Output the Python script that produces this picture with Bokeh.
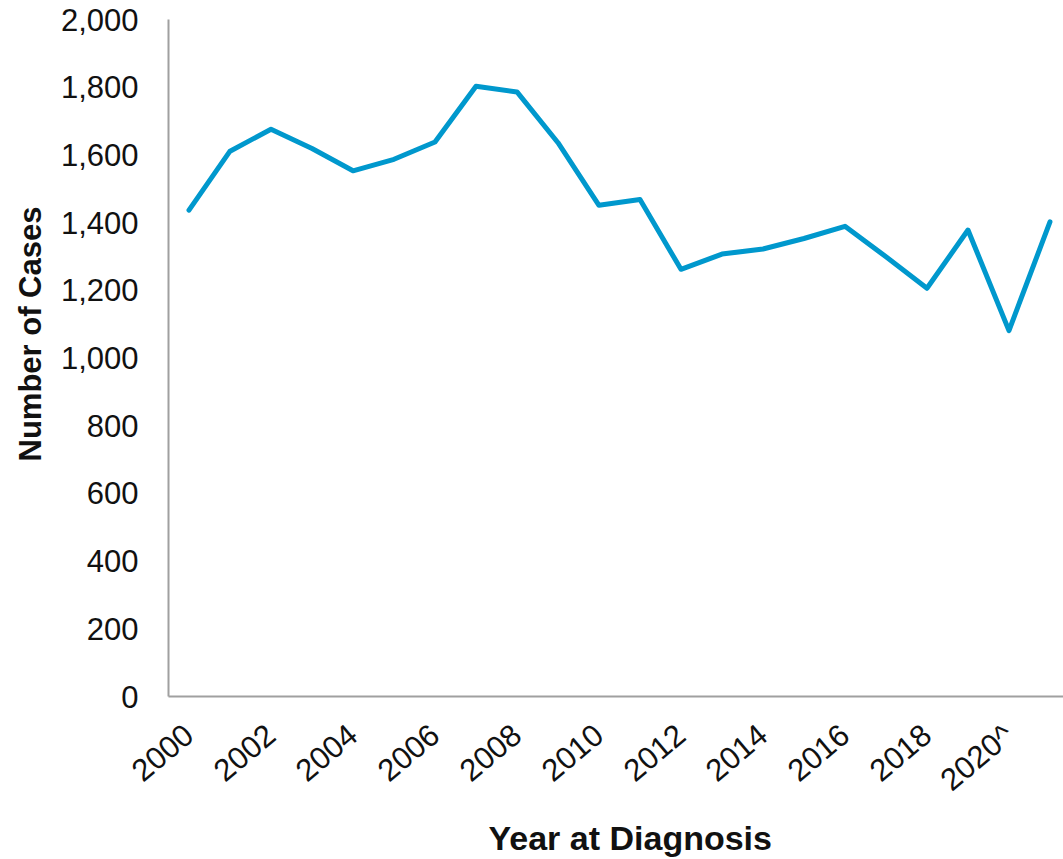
from bokeh.plotting import figure
from bokeh.models import Range1d, FixedTicker, NumeralTickFormatter, Title
from bokeh.embed import file_html
from bokeh.resources import INLINE

years = list(range(2000, 2022))
cases = [1437, 1611, 1676, 1619, 1553, 1587, 1638, 1803, 1786, 1636,
         1451, 1468, 1262, 1307, 1322, 1353, 1389, 1299, 1206, 1378,
         1081, 1402]
x_tick_years = [2000, 2002, 2004, 2006, 2008, 2010, 2012, 2014, 2016, 2018, 2020]
x_tick_labels = ["2000", "2002", "2004", "2006", "2008", "2010", "2012",
                 "2014", "2016", "2018", "2020^"]
y_ticks = [0, 200, 400, 600, 800, 1000, 1200, 1400, 1600, 1800, 2000]
x_title = "Year at Diagnosis"
y_title = "Number of Cases"

FONT = "Liberation Sans"
TXT = "#111111"
AXIS = "#a0a0a0"

p = figure(width=1063, height=859, output_backend="svg", toolbar_location=None,
           x_range=Range1d(1999.5, 2021.33), y_range=Range1d(0, 2000),
           min_border_left=168, min_border_right=0, min_border_top=19,
           min_border_bottom=162)
p.outline_line_color = None
p.xgrid.grid_line_color = None
p.ygrid.grid_line_color = None

p.line(years, cases, line_color="#0098cd", line_width=5, line_join="round", line_cap="round")

# x axis
xa = p.xaxis[0]
xa.ticker = FixedTicker(ticks=x_tick_years)
xa.major_label_overrides = {y: l for y, l in zip(x_tick_years, x_tick_labels)}
xa.major_label_orientation = 0.70
xa.major_tick_out = 0
xa.major_tick_in = 0
xa.minor_tick_out = 0
xa.minor_tick_in = 0
xa.major_label_standoff = 34
xa.major_label_text_font = FONT
xa.major_label_text_font_size = "31px"
xa.major_label_text_color = TXT
xa.axis_line_color = AXIS
xa.axis_line_width = 2

# y axis
ya = p.yaxis[0]
ya.ticker = FixedTicker(ticks=y_ticks)
ya.formatter = NumeralTickFormatter(format="0,0")
ya.major_tick_out = 0
ya.major_tick_in = 0
ya.minor_tick_out = 0
ya.minor_tick_in = 0
ya.major_label_standoff = 30
ya.major_label_text_font = FONT
ya.major_label_text_font_size = "31px"
ya.major_label_text_color = TXT
ya.axis_line_color = AXIS
ya.axis_line_width = 2

# axis titles
p.add_layout(Title(text=x_title, align="left", offset=320, standoff=5,
                   text_font=FONT, text_font_size="34px", text_font_style="bold",
                   text_color=TXT), "below")
p.add_layout(Title(text=y_title, align="left", offset=235, standoff=20,
                   text_font=FONT, text_font_size="31px", text_font_style="bold",
                   text_color=TXT), "left")

open("out.html", "w").write(file_html(p, INLINE))
